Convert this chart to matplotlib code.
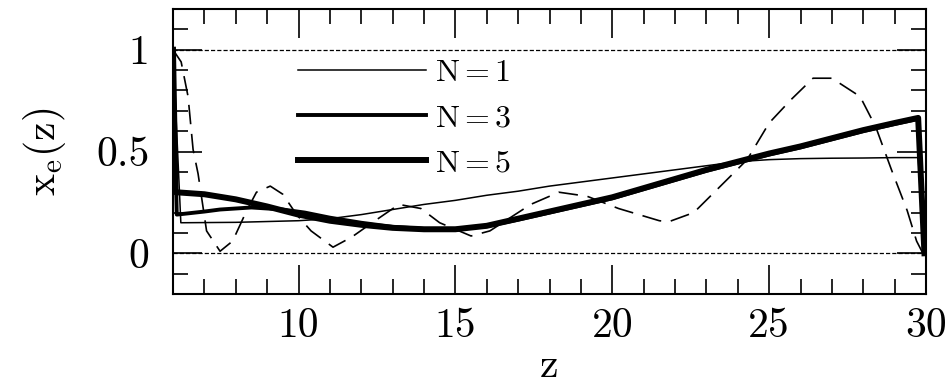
import matplotlib
matplotlib.use('Agg')
import matplotlib.pyplot as plt
from matplotlib.ticker import MultipleLocator

matplotlib.rcParams['font.family'] = 'cmr10'
matplotlib.rcParams['mathtext.fontset'] = 'cm'
matplotlib.rcParams['axes.formatter.use_mathtext'] = True
matplotlib.rcParams['lines.scale_dashes'] = False

# N=1 reconstruction (thin)
z_n1 = [6.0, 6.25, 8.0, 10.0, 11.0, 12.0, 13.0, 14.0, 15.0, 16.0, 17.0, 18.0, 19.0,
        20.0, 21.0, 22.0, 23.0, 24.0, 25.0, 26.0, 27.0, 28.0, 29.0, 29.75, 29.95]
xe_n1 = [1.0, 0.15, 0.152, 0.16, 0.17, 0.19, 0.215, 0.24, 0.26, 0.285, 0.305, 0.33, 0.35,
         0.37, 0.39, 0.41, 0.43, 0.45, 0.46, 0.465, 0.467, 0.468, 0.47, 0.47, 0.0]

# N=3 reconstruction (medium)
z_n3 = [6.0, 6.12, 7.0, 7.5, 8.5, 9.5, 10.2, 11.0, 12.0, 13.0, 14.0, 15.0, 16.0, 17.0,
        18.0, 19.0, 20.0, 21.0, 22.0, 23.0, 24.0, 25.0, 26.0, 27.0, 28.0, 29.0, 29.75, 29.95]
xe_n3 = [1.0, 0.19, 0.205, 0.215, 0.225, 0.215, 0.2, 0.175, 0.15, 0.13, 0.12, 0.12, 0.133, 0.165,
         0.2, 0.235, 0.27, 0.315, 0.36, 0.405, 0.445, 0.485, 0.52, 0.56, 0.6, 0.635, 0.66, 0.0]

# N=5 reconstruction (thick)
z_n5 = [6.0, 6.08, 7.0, 8.0, 9.0, 10.0, 11.0, 12.0, 13.0, 14.0, 15.0, 16.0, 17.0, 18.0,
        19.0, 20.0, 21.0, 22.0, 23.0, 24.0, 25.0, 26.0, 27.0, 28.0, 29.0, 29.75, 29.95]
xe_n5 = [1.0, 0.30, 0.29, 0.265, 0.23, 0.19, 0.16, 0.14, 0.125, 0.118, 0.118, 0.135, 0.17, 0.205,
         0.24, 0.275, 0.32, 0.365, 0.41, 0.45, 0.49, 0.525, 0.565, 0.605, 0.64, 0.665, 0.0]

# true model (dashed)
z_true = [6.0, 6.26, 6.48, 6.64, 6.8, 7.07, 7.5, 7.9, 8.35, 8.66, 9.1, 9.5, 9.94, 10.4,
          11.1, 11.7, 12.3, 13.2, 13.9, 14.5, 15.5, 16.1, 17.4, 18.3, 19.2, 20.2, 21.5,
          21.8, 22.6, 24.3, 25.0, 25.7, 26.4, 27.0, 27.9, 28.4, 28.9, 29.4, 29.7, 29.9]
xe_true = [1.0, 0.94, 0.77, 0.51, 0.39, 0.11, 0.01, 0.06, 0.21, 0.30, 0.33, 0.29, 0.19, 0.11,
           0.03, 0.08, 0.145, 0.24, 0.22, 0.15, 0.085, 0.11, 0.24, 0.30, 0.28, 0.22, 0.16,
           0.155, 0.2, 0.46, 0.64, 0.755, 0.86, 0.86, 0.77, 0.62, 0.41, 0.21, 0.06, 0.0]

xticks = [10, 15, 20, 25, 30]
xtick_labels = ['10', '15', '20', '25', '30']
yticks = [0, 0.5, 1]
ytick_labels = ['0', '0.5', '1']

fig = plt.figure(figsize=(9.49, 3.86), dpi=100)
ax = fig.add_axes([173/949, 1 - 294/386, 753/949, 285/386])

ax.axhline(0, color='k', lw=0.9, dashes=(3, 1.5))
ax.axhline(1, color='k', lw=0.9, dashes=(3, 1.5))

ax.plot(z_n1, xe_n1, color='k', lw=1.1, label=r'$\mathrm{N=1}$')
ax.plot(z_n3, xe_n3, color='k', lw=2.8, label=r'$\mathrm{N=3}$')
ax.plot(z_n5, xe_n5, color='k', lw=4.3, label=r'$\mathrm{N=5}$')
ax.plot(z_true, xe_true, color='k', lw=1.2, dashes=(14, 7))

ax.set_xlim(6, 30)
ax.set_ylim(-0.2, 1.2)
ax.set_xticks(xticks)
ax.set_xticklabels(xtick_labels)
ax.set_yticks(yticks)
ax.set_yticklabels(ytick_labels)
ax.xaxis.set_minor_locator(MultipleLocator(1))
ax.yaxis.set_minor_locator(MultipleLocator(0.1))
ax.tick_params(which='both', direction='in', top=True, right=True, width=1.2, labelsize=30)
ax.tick_params(which='major', length=21)
ax.tick_params(which='minor', length=10.5)
ax.tick_params(axis='x', pad=10)
ax.tick_params(axis='y', pad=17)
for s in ax.spines.values():
    s.set_linewidth(1.5)

ax.set_xlabel('z', fontsize=30)
ax.xaxis.set_label_coords(0.5, -0.255)
ax.xaxis.label.set_va('center')
ax.set_ylabel(r'$\mathrm{x_e(z)}$', fontsize=30)
ax.yaxis.set_label_coords(-0.17, 0.5)
ax.yaxis.label.set_va('center')

ax.legend(loc='upper left', bbox_to_anchor=(0.166, 0.825), frameon=False, fontsize=23,
          handlelength=4.0, handletextpad=0.3, labelspacing=0.52,
          borderpad=0, borderaxespad=0)

fig.savefig('out.png', dpi=100)
